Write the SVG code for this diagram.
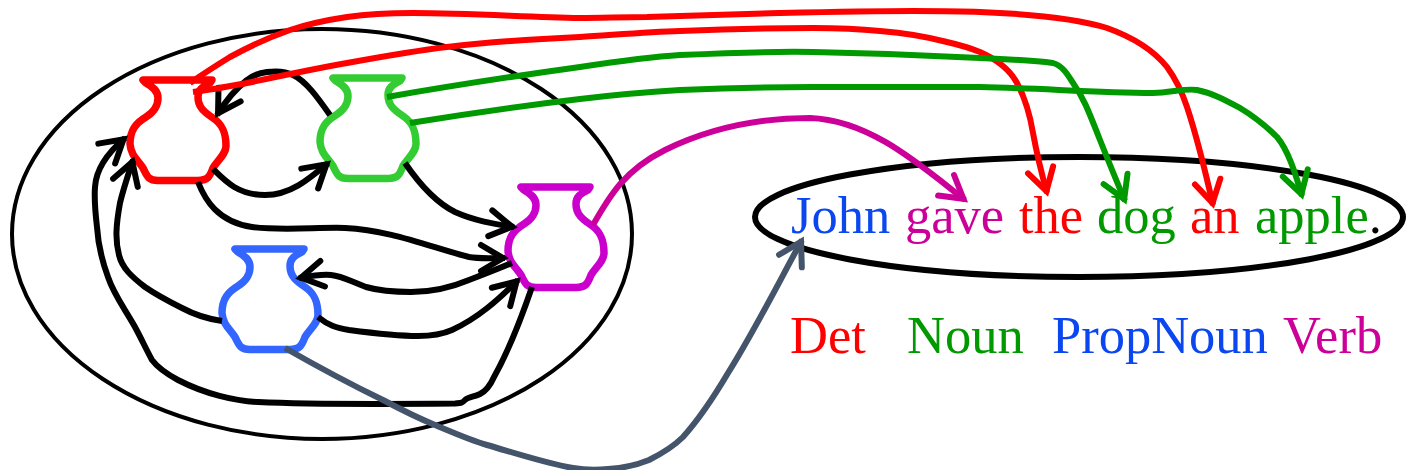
<svg xmlns="http://www.w3.org/2000/svg" width="1406" height="470" viewBox="0 0 1406 470">
<style>
.c{fill:none;stroke-width:6;stroke-linejoin:round}
.k{stroke:#000;marker-end:url(#mk)}
.r{stroke:#f00;marker-end:url(#mr)}
.g{stroke:#090;marker-end:url(#mg)}
.m{stroke:#c09;marker-end:url(#mm)}
.s{stroke:#44546a;marker-end:url(#ms)}
.a{fill:none;stroke-width:6;stroke-linecap:round;stroke-linejoin:miter}
.pot{fill:none;stroke-width:7.5;stroke-linejoin:round}
.el{fill:none;stroke:#000}
text{font-family:"Liberation Serif","Times New Roman",serif;font-size:52.5px}
</style>
<defs>
<marker id="mk" markerUnits="userSpaceOnUse" markerWidth="44" markerHeight="44" refX="30" refY="22" orient="auto"><path class="a" d="M6 9L28 22L6 35" stroke="#000"/></marker>
<marker id="mr" markerUnits="userSpaceOnUse" markerWidth="44" markerHeight="44" refX="30" refY="22" orient="auto"><path class="a" d="M6 9L28 22L6 35" stroke="#f00"/></marker>
<marker id="mg" markerUnits="userSpaceOnUse" markerWidth="44" markerHeight="44" refX="30" refY="22" orient="auto"><path class="a" d="M6 9L28 22L6 35" stroke="#090"/></marker>
<marker id="mm" markerUnits="userSpaceOnUse" markerWidth="44" markerHeight="44" refX="30" refY="22" orient="auto"><path class="a" d="M6 9L28 22L6 35" stroke="#c09"/></marker>
<marker id="ms" markerUnits="userSpaceOnUse" markerWidth="44" markerHeight="44" refX="30" refY="22" orient="auto"><path class="a" d="M6 9L28 22L6 35" stroke="#44546a"/></marker>
<path id="p" d="M143 80H212L210 83C202 87 198 90 198 97C198 107 204 112 213 118C222 124 226 132 226 146C226 154 218 160 213 168C210 176 208 180.500 198 180.500H158C148 180.500 147 176 143 168C138 160 131 156 130 144C130 130 136 123 146 117C154 112 158 106 158 98C158 91 153 87 146 83Z"/>
</defs>
<g id="outer-ellipse"><ellipse class="el" cx="322" cy="234" rx="310" ry="205" stroke-width="4"/></g>
<g id="sentence-ellipse"><ellipse class="el" cx="1079" cy="217" rx="324" ry="60" stroke-width="6"/></g>
<g id="pot-det"><use href="#p" class="pot" stroke="#f00"/></g>
<g id="pot-noun"><use href="#p" class="pot" stroke="#3c3" transform="translate(190,-2)"/></g>
<g id="pot-verb"><use href="#p" class="pot" stroke="#c0c" transform="translate(378,107)"/></g>
<g id="pot-propnoun"><use href="#p" class="pot" stroke="#36f" transform="translate(92,169)"/></g>
<g id="connectors">
<path class="c k" d="M330 115C318 98 306 81 293 75C285 71 276 71 267 72C259 73 253 75 247 80C234 90 225 102 217 115"/>
<path class="c k" d="M213 169C225 181 238 195 265 195C290 195 308 180 328 163"/>
<path class="c k" d="M405 163C420 185 437 203 455 212C475 221 495 224 514 227"/>
<path class="c k" d="M198 182C205 200 218 222 252 227C280 231 320 227 345 228C390 230 430 247 469 257C480 259 492 258 505 258"/>
<path class="c k" d="M512 263C495 270 485 274 469 280C450 288 430 292 411 292C395 292 380 291 366 287C350 281 342 276 331 275C320 274 310 276 299 278"/>
<path class="c k" d="M318 317C328 325 336 328 349 330C372 333 400 336 418 336C435 336 443 334 452 330C478 318 498 300 518 280"/>
<path class="c k" d="M222 321C208 319 195 315 182 308C170 302 158 296 145 287C132 277 122 268 119 255C115 240 116 225 120 203C123 190 127 178 133 160"/>
<path class="c k" d="M532 287C520 322 508 352 494 377C490 386 486 391 480 394C474 397 468 397 465 400C462 403 462 403 455 403.500C400 404 300 404 258 402C235 401 205 394 178 380C165 373 158 368 152 360C146 349 142 340 135 327C125 309 114 295 108 277C101 258 98 243 97 227C95 210 94 200 95 187C96 170 105 155 125 138"/>
<path class="c r" d="M190 83C203 74 217 65 230 57C250 46 270 37 290 30C308 24 327 20 347 17C368 14 390 13 413 13C470 13 525 17 580 18C600 18 625 17 647 17C690 16 735 14 780 13C825 12 870 11 913 11C935 11 960 11 980 12C1030 14 1075 18 1107 28C1135 38 1155 52 1167 67C1178 82 1183 95 1187 107C1198 140 1205 170 1213 205"/>
<path class="c r" d="M193 92C210 90 230 86 247 83C280 76 313 69 347 63C380 57 413 51 447 47C490 42 535 39 580 37C613 35 647 32 680 31C725 29 770 28 813 28C836 28 860 29 880 31C905 33 928 37 947 42C960 45 970 48 980 52C998 60 1010 70 1017 83C1025 98 1030 115 1033 133C1037 155 1042 175 1047 193"/>
<path class="c g" d="M387 97C450 86 515 76 580 67C613 62 647 57 680 55C725 53 770 51 813 52C870 53 925 55 980 58C1005 59 1030 60 1053 63C1063 66 1068 75 1073 83C1085 100 1090 115 1100 140C1108 160 1116 180 1125 201"/>
<path class="c g" d="M410 123C465 114 520 106 580 99C613 95 647 92 680 90C725 88 770 87 813 87C870 87 925 87 980 87C1040 88 1095 93 1153 93C1170 93 1185 88 1197 90C1212 93 1225 100 1240 108C1255 117 1267 127 1277 137C1288 150 1295 172 1302 196"/>
<path class="c m" d="M593 225C610 195 625 170 665 150C710 128 760 118 810 118C870 120 920 165 965 200"/>
<path class="c s" d="M285 348C320 368 350 384 383 400C400 409 418 418 435 425C452 432 470 440 487 445C515 453 545 463 573 468C585 470 597 470 608 469C623 468 637 465 649 460C663 453 673 447 683 437C700 418 715 395 728 373C755 330 780 280 802 240"/>
</g>
<g id="sentence"><text y="233"><tspan x="791" fill="#0a47f0">John</tspan> <tspan x="905" fill="#c09">gave</tspan> <tspan x="1019" fill="#f00">the</tspan> <tspan x="1097" fill="#090">dog</tspan> <tspan x="1190" fill="#f00">an</tspan> <tspan x="1255" fill="#090">apple</tspan><tspan fill="#000">.</tspan></text></g>
<g id="legend"><text x="790" y="353" fill="#f00">Det</text><text x="907" y="353" fill="#090">Noun</text><text x="1052" y="353" fill="#0a47f0">PropNoun</text><text x="1283" y="353" fill="#c09">Verb</text></g>
</svg>
